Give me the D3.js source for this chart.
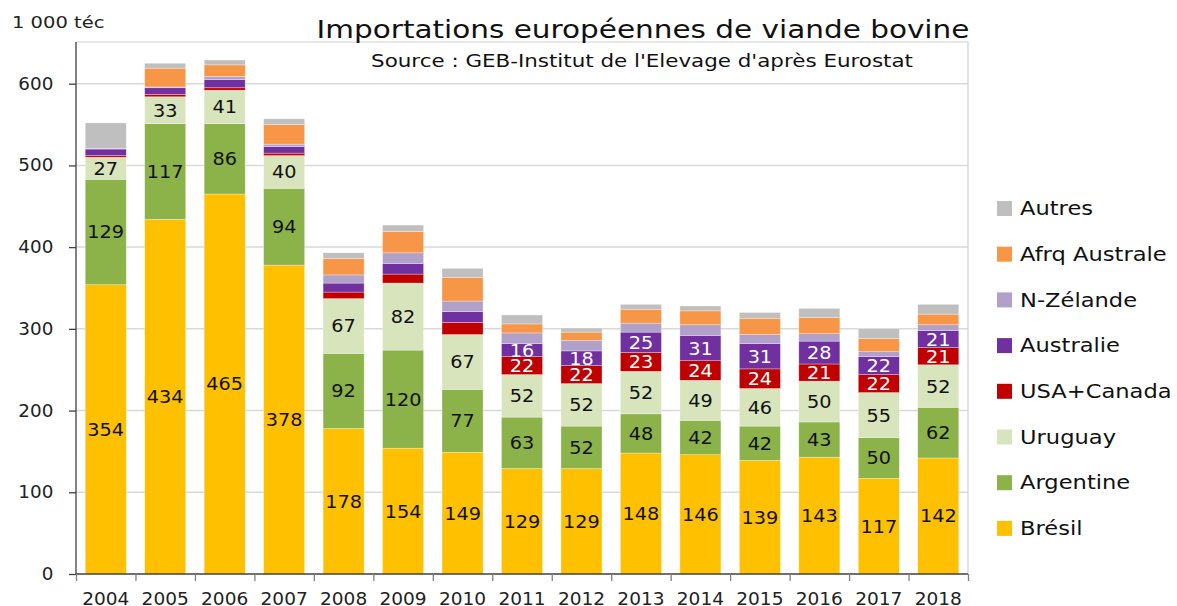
<!DOCTYPE html>
<html>
<head>
<meta charset="utf-8">
<script src="https://cdn.jsdelivr.net/npm/d3@7"></script>
<style>
    body { margin: 0; background: #fff; }
    svg { display: block; font-family: "DejaVu Sans", Verdana, sans-serif; }
</style>
</head>
<body>
<svg id="chart" width="1177" height="606"></svg>
<script>
// Data (1 000 téc)
const years = ['2004', '2005', '2006', '2007', '2008', '2009', '2010', '2011', '2012', '2013', '2014', '2015', '2016', '2017', '2018'];
const series = ['Brésil', 'Argentine', 'Uruguay', 'USA+Canada', 'Australie', 'N-Zélande', 'Afrq Australe', 'Autres'];
const colors = ['#FFC000', '#8CB24A', '#D8E4BC', '#C00000', '#7030A0', '#B1A0C7', '#F79646', '#BFBFBF'];
const bresil = [354, 434, 465, 378, 178, 154, 149, 129, 129, 148, 146, 139, 143, 117, 142];
const argentine = [129, 117, 86, 94, 92, 120, 77, 63, 52, 48, 42, 42, 43, 50, 62];
const uruguay = [27, 33, 41, 40, 67, 82, 67, 52, 52, 52, 49, 46, 50, 55, 52];
const usaCanada = [2, 3, 3, 3, 8, 11, 15, 22, 22, 23, 24, 24, 21, 22, 21];
const australie = [8, 8, 10, 8, 11, 13, 13, 16, 18, 25, 31, 31, 28, 22, 21];
const nZelande = [1, 1, 4, 3, 10, 13, 13, 13, 13, 11, 13, 11, 9, 6, 7];
const afrqAustrale = [0, 23, 14, 24, 20, 26, 29, 11, 10, 17, 17, 20, 20, 16, 13];
const autres = [31, 6, 6, 7, 7, 8, 11, 11, 5, 6, 6, 7, 11, 12, 12];
const yTicks = [0, 100, 200, 300, 400, 500, 600];

const values = [bresil, argentine, uruguay, usaCanada, australie, nZelande, afrqAustrale, autres];
// segments with a printed value: first five series, large enough
const labelled = [true, true, true, true, true, false, false, false];
const labelColor = ['#111', '#111', '#111', '#fff', '#fff', '#111', '#111', '#111'];

const rows = years.map((y, i) => {
    const r = {year: y};
    series.forEach((s, j) => { r[s] = values[j][i]; });
    return r;
});

const svg = d3.select('#chart');
const plot = {left: 76, right: 968, top: 42, bottom: 574};

// the source picture is a bit stretched horizontally, so text gets a scaleX
function place(sel, x, y, sx) {
    return sel.attr('transform', (d, i) => {
        const px = typeof x === 'function' ? x(d, i) : x;
        const py = typeof y === 'function' ? y(d, i) : y;
        return `translate(${px},${py}) scale(${sx},1)`;
    });
}

const x = d3.scaleBand()
    .domain(years)
    .range([plot.left, plot.right])
    .paddingInner(0.31)
    .paddingOuter(0.155);

const y = d3.scaleLinear()
    .domain([0, 651])
    .range([plot.bottom, plot.top]);

// grid
svg.append('g')
    .selectAll('line')
    .data(yTicks.slice(1))
    .join('line')
    .attr('x1', plot.left).attr('x2', plot.right)
    .attr('y1', d => y(d)).attr('y2', d => y(d))
    .attr('stroke', '#d9d9d9').attr('stroke-width', 1.5);

// plot frame (top + right)
svg.append('path')
    .attr('d', `M${plot.left},${plot.top}H${plot.right}V${plot.bottom}`)
    .attr('fill', 'none')
    .attr('stroke', '#d0d0d0')
    .attr('stroke-width', 1.2);

const stack = d3.stack().keys(series)(rows);

const layer = svg.append('g')
    .selectAll('g')
    .data(stack)
    .join('g')
    .attr('fill', (d, i) => colors[i]);

layer.selectAll('rect')
    .data(d => d)
    .join('rect')
    .attr('x', d => x(d.data.year))
    .attr('width', x.bandwidth())
    .attr('y', d => y(d[1]))
    .attr('height', d => y(d[0]) - y(d[1]))
    .attr('stroke', '#fff')
    .attr('stroke-opacity', 0.5)
    .attr('stroke-width', 0.6);

// value labels
stack.forEach((s, i) => {
    if (!labelled[i]) return;
    const t = svg.append('g')
        .selectAll('text')
        .data(s.filter(d => d[1] - d[0] >= 16))
        .join('text')
        .attr('dy', '0.36em')
        .attr('text-anchor', 'middle')
        .attr('font-size', 18)
        .attr('fill', labelColor[i])
        .text(d => d[1] - d[0]);
    place(t, d => x(d.data.year) + x.bandwidth() / 2, d => y((d[0] + d[1]) / 2), 1.07);
});

// y axis
const yAxis = svg.append('g')
    .attr('transform', `translate(${plot.left},0)`)
    .call(d3.axisLeft(y).tickValues(yTicks).tickSize(7).tickPadding(14).tickSizeOuter(0));
yAxis.select('.domain').attr('stroke', '#404040').attr('stroke-width', 1.3)
    .attr('d', `M0,${plot.top}V${plot.bottom}`);
yAxis.selectAll('.tick line').attr('stroke', '#404040').attr('stroke-width', 1.3);
yAxis.selectAll('text').attr('font-size', 17).attr('fill', '#222')
    .attr('font-family', '"DejaVu Sans", Verdana, sans-serif')
    .attr('transform', 'scale(1.08,1)');

// x axis: ticks between categories
const xb = d3.scaleLinear().domain([0, years.length]).range([plot.left, plot.right]);
const xAxis = svg.append('g')
    .attr('transform', `translate(0,${plot.bottom})`)
    .call(d3.axisBottom(xb).tickValues(d3.range(years.length + 1)).tickSize(7).tickFormat(''));
xAxis.select('.domain').attr('stroke', '#404040').attr('stroke-width', 1.3)
    .attr('d', `M${plot.left},0H${plot.right}`);
xAxis.selectAll('.tick line').attr('stroke', '#808080').attr('stroke-width', 1.3);

const xLabels = svg.append('g')
    .selectAll('text')
    .data(years)
    .join('text')
    .attr('text-anchor', 'middle')
    .attr('font-size', 18)
    .attr('fill', '#222')
    .text(d => d);
place(xLabels, d => x(d) + x.bandwidth() / 2, 605, 1.03);

// titles
place(svg.append('text')
    .attr('font-size', 16)
    .attr('fill', '#222')
    .text('1 000 téc'), 12, 28, 1.22);

place(svg.append('text')
    .attr('text-anchor', 'middle')
    .attr('font-size', 25)
    .attr('fill', '#111')
    .text('Importations européennes de viande bovine'), 643, 38, 1.18);

place(svg.append('text')
    .attr('text-anchor', 'middle')
    .attr('font-size', 18)
    .attr('fill', '#111')
    .text("Source : GEB-Institut de l'Elevage d'après Eurostat"), 642, 66.5, 1.19);

// legend, top entry is last series
const legend = svg.append('g')
    .selectAll('g')
    .data(series.slice().reverse())
    .join('g')
    .attr('transform', (d, i) => `translate(997,${208 + i * 45.7})`);

legend.append('rect')
    .attr('x', 0).attr('y', -7)
    .attr('width', 15).attr('height', 15)
    .attr('fill', d => colors[series.indexOf(d)]);

legend.append('text')
    .attr('transform', 'translate(23,0) scale(1.13,1)')
    .attr('dy', '0.36em')
    .attr('font-size', 20)
    .attr('fill', '#111')
    .text(d => d);
</script>
</body>
</html>
